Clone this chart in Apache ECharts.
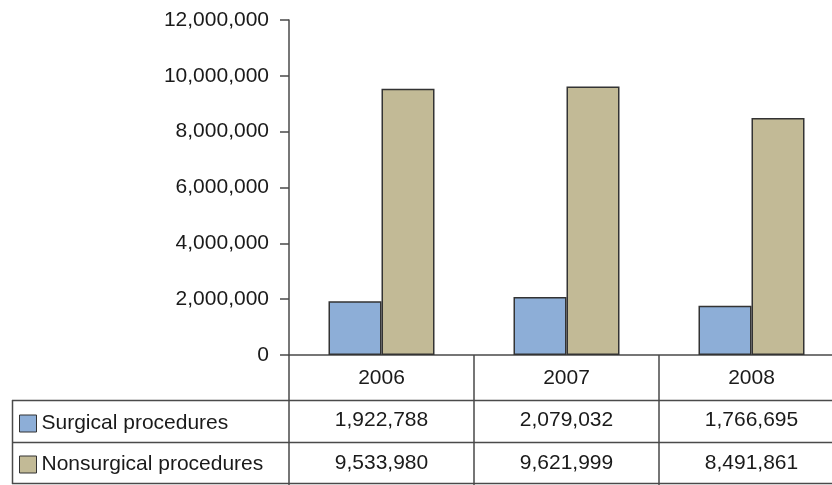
<!DOCTYPE html>
<html>
<head>
<meta charset="utf-8">
<script src="https://cdn.jsdelivr.net/npm/echarts@6/dist/echarts.min.js"></script>
<style>
  html, body { margin: 0; padding: 0; background: #fff; overflow: hidden; }
  /* plot runs a bit past the right edge of the picture, as in the original */
  #chart { width: 844px; height: 485px; }
</style>
</head>
<body>
<div id="chart"></div>
<script>
// data
const years = ["2006", "2007", "2008"];
const surgical = [1922788, 2079032, 1766695];
const nonsurgical = [9533980, 9621999, 8491861];
const yTicks = [0, 2000000, 4000000, 6000000, 8000000, 10000000, 12000000];

const FONT = "Liberation Sans, Arial, sans-serif";
const TEXT = "#1a1a1a";
const LINE = "#4a4a4a";
const FS = 21;
const fmt = (v) => Number(v).toLocaleString("en-US");

const chart = echarts.init(document.getElementById("chart"));

// table frame left of / below the plot
const frameLines = [
  [12, 400.5, 844, 400.5],
  [12, 442.5, 844, 442.5],
  [12, 483.5, 844, 483.5],
  [12.5, 400, 12.5, 484],
];

chart.setOption({
  animation: false,
  textStyle: { fontFamily: FONT },
  grid: { left: 289, right: 0, top: 20, bottom: 130, containLabel: false },
  legend: {
    orient: "vertical",
    left: 19,
    top: 413,
    padding: 0,
    icon: "rect",
    itemWidth: 17,
    itemHeight: 17,
    itemGap: 20,
    itemStyle: { borderColor: "#333", borderWidth: 1 },
    textStyle: { fontSize: FS, color: TEXT, fontFamily: FONT },
    selectedMode: false,
  },
  xAxis: [
    {
      type: "category",
      data: years,
      axisLine: { lineStyle: { color: LINE, width: 1.5 } },
      axisTick: { show: true, length: 130, lineStyle: { color: LINE, width: 1.5 } },
      axisLabel: { fontSize: FS, color: TEXT, margin: 13, lineHeight: 20 },
    },
    {
      type: "category",
      data: surgical.map(fmt),
      position: "bottom",
      axisLine: { show: false },
      axisTick: { show: false },
      axisLabel: { fontSize: FS, color: TEXT, margin: 55, lineHeight: 20 },
    },
    {
      type: "category",
      data: nonsurgical.map(fmt),
      position: "bottom",
      axisLine: { show: false },
      axisTick: { show: false },
      axisLabel: { fontSize: FS, color: TEXT, margin: 98, lineHeight: 20 },
    },
  ],
  yAxis: {
    type: "value",
    min: yTicks[0],
    max: yTicks[yTicks.length - 1],
    interval: yTicks[1] - yTicks[0],
    axisLine: { show: true, lineStyle: { color: LINE, width: 1.5 } },
    axisTick: { show: true, length: 9, lineStyle: { color: LINE, width: 1.5 } },
    splitLine: { show: false },
    axisLabel: { fontSize: FS, color: TEXT, margin: 20, formatter: fmt },
  },
  series: [
    {
      name: "Surgical procedures",
      type: "bar",
      data: surgical,
      barWidth: 53,
      barGap: "0%",
      itemStyle: { color: "#8daed7", borderColor: "#333", borderWidth: 1.5 },
    },
    {
      name: "Nonsurgical procedures",
      type: "bar",
      data: nonsurgical,
      barWidth: 53,
      itemStyle: { color: "#c2ba96", borderColor: "#333", borderWidth: 1.5 },
    },
  ],
  graphic: frameLines.map((l) => ({
    type: "line",
    shape: { x1: l[0], y1: l[1], x2: l[2], y2: l[3] },
    style: { stroke: LINE, lineWidth: 1.5 },
    silent: true,
  })),
});
</script>
</body>
</html>
